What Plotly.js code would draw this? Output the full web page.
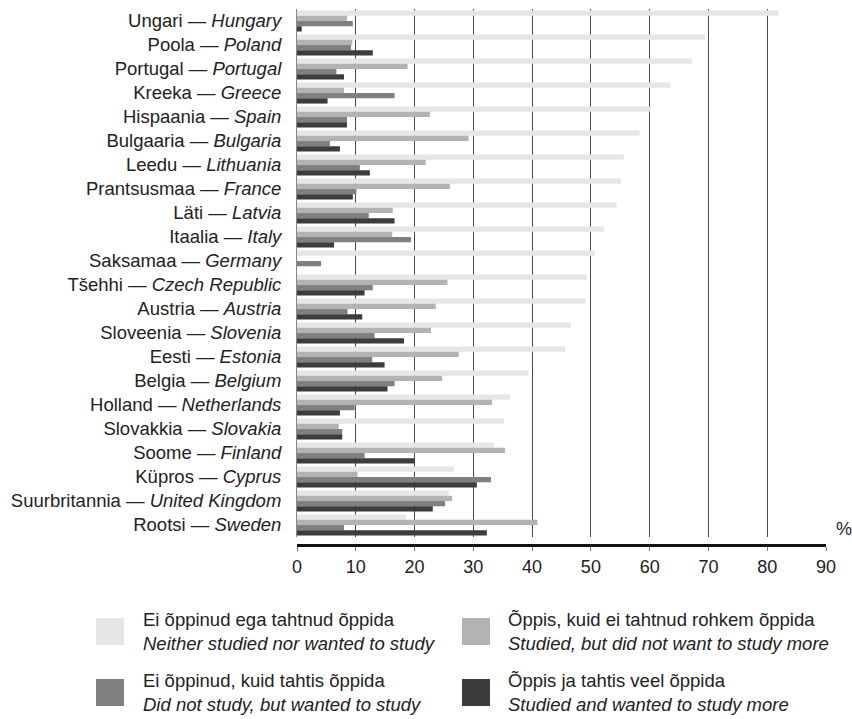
<!DOCTYPE html>
<html>
<head>
<meta charset="utf-8">
<script src="https://cdn.plot.ly/plotly-3.0.1.min.js"></script>
<style>
  html, body { margin: 0; padding: 0; background: #ffffff; }
  #chart { width: 852px; height: 719px; }
</style>
</head>
<body>
<div id="chart"></div>
<script>
// ---- Data ----
const countriesEt = ['Ungari','Poola','Portugal','Kreeka','Hispaania','Bulgaaria','Leedu','Prantsusmaa','Läti','Itaalia','Saksamaa','Tšehhi','Austria','Sloveenia','Eesti','Belgia','Holland','Slovakkia','Soome','Küpros','Suurbritannia','Rootsi'];
const countriesEn = ['Hungary','Poland','Portugal','Greece','Spain','Bulgaria','Lithuania','France','Latvia','Italy','Germany','Czech Republic','Austria','Slovenia','Estonia','Belgium','Netherlands','Slovakia','Finland','Cyprus','United Kingdom','Sweden'];

const neitherStudiedNorWanted = [81.9,69.4,67.2,63.6,60.2,58.3,55.6,55.1,54.4,52.2,50.7,49.3,49.1,46.6,45.6,39.4,36.2,35.2,33.5,26.7,25.8,18.5];
const studiedNotWantedMore    = [8.5,9.4,18.8,8.0,22.6,29.2,21.9,26.0,16.3,16.2,null,25.6,23.6,22.8,27.5,24.7,33.2,7.1,35.4,10.3,26.4,40.9];
const notStudiedButWanted     = [9.5,9.2,6.7,16.6,8.5,5.6,10.7,10.1,12.2,19.4,4.1,12.9,8.6,13.2,12.8,16.6,9.8,7.7,11.5,33.0,25.2,8.0];
const studiedWantedMore       = [0.8,12.9,8.0,5.2,8.5,7.3,12.4,9.5,16.6,6.3,null,11.5,11.1,18.2,14.9,15.4,7.3,7.7,20.0,30.6,23.1,32.3];

const seriesEt = ['Ei õppinud ega tahtnud õppida','Õppis, kuid ei tahtnud rohkem õppida','Ei õppinud, kuid tahtis õppida','Õppis ja tahtis veel õppida'];
const seriesEn = ['Neither studied nor wanted to study','Studied, but did not want to study more','Did not study, but wanted to study','Studied and wanted to study more'];
const xTicks = [0,10,20,30,40,50,60,70,80,90];

// ---- Styling ----
const colors = ['#e6e6e6','#b3b3b3','#808080','#3c3c3c'];
const FONT = 'Liberation Sans, Arial, sans-serif';
const W = 852, H = 719;
const M = {l: 297, r: 26, t: 9, b: 174};
const plotW = W - M.l - M.r, plotH = H - M.t - M.b;
const px2x = px => (px - M.l) / plotW;
const py2y = py => (H - M.b - py) / plotH;

const seriesValues = [neitherStudiedNorWanted, studiedNotWantedMore, notStudiedButWanted, studiedWantedMore];
const tickText = countriesEt.map((et, i) => et + ' — <i>' + countriesEn[i] + '</i>');

const traces = seriesValues.map((vals, k) => ({
  type: 'bar',
  orientation: 'h',
  y: countriesEn,
  x: vals,
  name: seriesEt[k],
  marker: {color: colors[k], line: {width: 0}},
  hoverinfo: 'x+y+name'
}));

// custom legend (swatches + two-line labels)
const legendPos = [
  {sx: 96, sy: 618, tx: 141},
  {sx: 462, sy: 618, tx: 506},
  {sx: 96, sy: 679, tx: 141},
  {sx: 462, sy: 679, tx: 506}
];
const SW = 28;
const LEG_SIZE = 18.5;
const shapes = [];
const annotations = [];
legendPos.forEach((p, k) => {
  shapes.push({
    type: 'rect', xref: 'paper', yref: 'paper',
    x0: px2x(p.sx), x1: px2x(p.sx + SW), y0: py2y(p.sy + SW - 1), y1: py2y(p.sy),
    fillcolor: colors[k], line: {width: 0}
  });
  annotations.push({
    xref: 'paper', yref: 'paper', x: px2x(p.tx), y: py2y(p.sy + 1),
    xanchor: 'left', yanchor: 'middle', showarrow: false,
    text: seriesEt[k], font: {family: FONT, size: LEG_SIZE, color: '#222'}
  });
  annotations.push({
    xref: 'paper', yref: 'paper', x: px2x(p.tx), y: py2y(p.sy + 25),
    xanchor: 'left', yanchor: 'middle', showarrow: false,
    text: '<i>' + seriesEn[k] + '</i>', font: {family: FONT, size: LEG_SIZE, color: '#222'}
  });
});
annotations.push({
  xref: 'paper', yref: 'paper', x: px2x(844), y: py2y(529),
  xanchor: 'center', yanchor: 'middle', showarrow: false,
  text: '%', font: {family: FONT, size: 18, color: '#222'}
});

const layout = {
  width: W, height: H,
  margin: M,
  paper_bgcolor: '#ffffff',
  plot_bgcolor: '#ffffff',
  showlegend: false,
  barmode: 'group',
  bargap: 0.12,
  bargroupgap: 0,
  font: {family: FONT, size: 18, color: '#222'},
  xaxis: {
    range: [0, 90],
    tickvals: xTicks,
    ticktext: xTicks.map(String),
    showgrid: true,
    gridcolor: '#4a4a4a',
    gridwidth: 1,
    zeroline: false,
    showline: true,
    linecolor: '#111',
    linewidth: 3,
    ticks: 'outside',
    ticklen: 4,
    tickcolor: '#777',
    tickwidth: 1,
    anchor: 'free',
    position: 0,
    tickfont: {family: FONT, size: 18, color: '#222'},
    fixedrange: true
  },
  yaxis: {
    domain: [py2y(537), 1],
    autorange: 'reversed',
    tickvals: countriesEn,
    ticktext: tickText,
    showgrid: false,
    zeroline: false,
    showline: true,
    linecolor: '#888',
    linewidth: 1,
    ticks: '',
    ticklabelstandoff: 11,
    tickfont: {family: FONT, size: 18.5, color: '#222'},
    fixedrange: true
  },
  shapes: shapes,
  annotations: annotations
};

Plotly.newPlot('chart', traces, layout, {displayModeBar: false, staticPlot: true});
</script>
</body>
</html>
